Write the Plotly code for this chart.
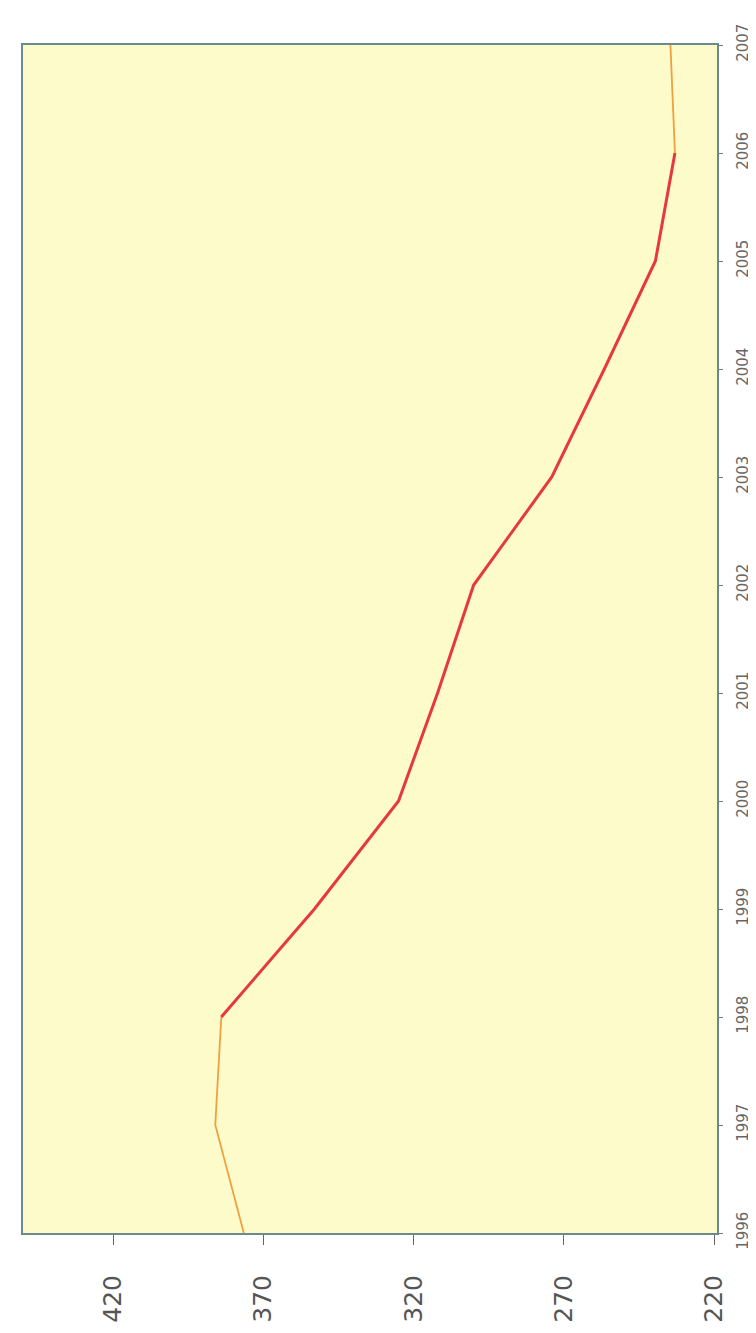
import plotly.graph_objects as go

years = [1996, 1997, 1998, 1999, 2000, 2001, 2002, 2003, 2004, 2005, 2006, 2007]
values = [376.5, 386, 384, 353, 325, 312, 300, 274, 256.5, 239.5, 233, 234.5]
value_ticks = [220, 270, 320, 370, 420]

red = "#E5393D"
orange = "#F0A040"

fig = go.Figure()
# flat stretches appear thin/orange in the reference, the falling part red
fig.add_trace(go.Scatter(x=values[:3], y=years[:3], mode="lines",
                         line=dict(color=orange, width=1.8), showlegend=False))
fig.add_trace(go.Scatter(x=values[2:11], y=years[2:11], mode="lines",
                         line=dict(color=red, width=3), showlegend=False))
fig.add_trace(go.Scatter(x=values[10:], y=years[10:], mode="lines",
                         line=dict(color=orange, width=1.8), showlegend=False))

axis_color = "#6a8a8c"
fig.update_layout(
    width=756, height=1333,
    margin=dict(l=15, r=25, t=37, b=108),
    paper_bgcolor="white",
    plot_bgcolor="#FEFBCA",
    xaxis=dict(
        range=[450, 219],
        tickmode="array", tickvals=value_ticks,
        ticktext=[str(v) for v in value_ticks],
        tickangle=-90,
        ticks="outside", ticklen=10, tickcolor="#666",
        ticklabelstandoff=20,
        tickfont=dict(family="DejaVu Sans", size=25, color="#555"),
        showgrid=False, zeroline=False,
        showline=True, linecolor=axis_color, linewidth=2, mirror=True,
    ),
    yaxis=dict(
        range=[1996, 2007],
        side="right",
        tickmode="array", tickvals=years,
        ticktext=[str(y) for y in years],
        tickangle=-90,
        ticks="outside", ticklen=4, tickcolor="#777",
        ticklabelstandoff=7,
        tickfont=dict(family="DejaVu Sans", size=15, color="#666"),
        showgrid=False, zeroline=False,
        showline=True, linecolor=axis_color, linewidth=2, mirror=True,
    ),
)

fig.write_html("out.html")
